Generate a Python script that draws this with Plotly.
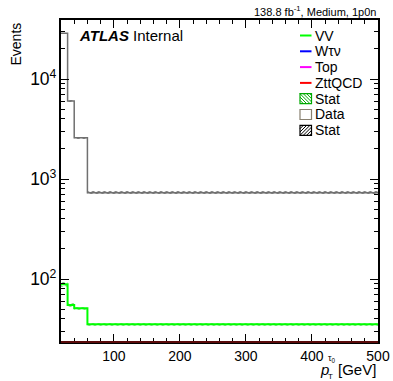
import plotly.graph_objects as go

# ---- data ----
edges = [20, 30, 40, 60, 500]
data_vals = [28700, 6030, 2590, 730]
data_err = [170, 78, 51, 27]
vv_vals = [88.5, 55, 51, 35.2]
vv_err = [4.5, 2.5, 2.0, 1.2]

line_labels = ["VV", "Wτν", "Top", "ZttQCD"]
line_colors = ["#00ff00", "#0000ff", "#ff00ff", "#ff0000"]
box_labels = ["Stat", "Data", "Stat"]

x_ticks = [100, 200, 300, 400, 500]

W, H = 393, 381
L, R, T, B = 61, 378, 20, 342
FONT = "Liberation Sans, Arial, Helvetica, sans-serif"


def px(x):
    return (x - L) / (R - L)


def py(y):
    return (B - y) / (B - T)


centers = [(a + b) / 2 for a, b in zip(edges[:-1], edges[1:])]
widths = [b - a for a, b in zip(edges[:-1], edges[1:])]

fig = go.Figure()

# stat bands (hatched)
fig.add_trace(go.Bar(
    x=centers, width=widths,
    base=[v - e for v, e in zip(vv_vals, vv_err)],
    y=[2 * e for e in vv_err],
    marker=dict(color="rgba(0,0,0,0)", line=dict(width=0),
                pattern=dict(shape="\\", fgcolor="#00aa00", size=4, solidity=0.4)),
    showlegend=False, hoverinfo="skip"))
fig.add_trace(go.Bar(
    x=centers, width=widths,
    base=[v - e for v, e in zip(data_vals, data_err)],
    y=[2 * e for e in data_err],
    marker=dict(color="rgba(0,0,0,0)", line=dict(width=0),
                pattern=dict(shape="/", fgcolor="#000000", size=4, solidity=0.5)),
    showlegend=False, hoverinfo="skip"))

# step histograms
fig.add_trace(go.Scatter(
    x=edges, y=data_vals + [data_vals[-1]], mode="lines",
    line=dict(shape="hv", color="#707070", width=1.5),
    showlegend=False, hoverinfo="skip"))
fig.add_trace(go.Scatter(
    x=edges, y=vv_vals + [vv_vals[-1]], mode="lines",
    line=dict(shape="hv", color="#00ff00", width=2),
    showlegend=False, hoverinfo="skip"))

fig.update_layout(
    width=W, height=H,
    margin=dict(l=L, r=W - R, t=T, b=H - B, pad=0, autoexpand=False),
    paper_bgcolor="white", plot_bgcolor="white",
    barmode="overlay", bargap=0,
    font=dict(family=FONT, size=14, color="black"),
    showlegend=False,
)

fig.update_xaxes(
    range=[20, 500], tickvals=x_ticks, ticktext=[str(v) for v in x_ticks],
    ticks="inside", ticklen=8, tickwidth=1, tickcolor="black",
    minor=dict(ticks="inside", ticklen=4, dtick=20, tick0=0, tickcolor="black", showgrid=False),
    showline=True, linecolor="black", linewidth=1.5, mirror="allticks",
    showgrid=False, zeroline=False, tickfont=dict(size=14, family=FONT),
    automargin=False,
)
fig.update_yaxes(
    type="log", range=[1.37, 4.59], dtick=1, exponentformat="power",
    ticks="inside", ticklen=8, tickwidth=1, tickcolor="black",
    minor=dict(ticks="inside", ticklen=4, dtick="D1", tickcolor="black", showgrid=False),
    showline=True, linecolor="black", linewidth=1.5, mirror="allticks",
    showgrid=False, zeroline=False, tickfont=dict(size=14, family=FONT),
    automargin=False,
)

shapes = []
# bottom line where the zero-valued backgrounds sit
shapes.append(dict(type="line", xref="paper", yref="paper", x0=0, x1=1, y0=0, y1=0,
                   line=dict(color="#5a0a0a", width=2), layer="above"))

ann = []
ann.append(dict(text="138.8 fb<sup>-1</sup>, Medium, 1p0n", x=px(378), y=py(11),
                xref="paper", yref="paper", xanchor="right", yanchor="middle",
                showarrow=False, font=dict(size=11)))
ann.append(dict(text="<b><i>ATLAS</i></b> Internal", x=px(77), y=py(35),
                xref="paper", yref="paper", xanchor="left", yanchor="middle",
                showarrow=False, font=dict(size=15)))
ann.append(dict(text="Events", x=px(15), y=py(20), textangle=-90,
                xref="paper", yref="paper", xanchor="center", yanchor="top",
                showarrow=False, font=dict(size=14)))
# x title
ann.append(dict(text="<i>p</i>", x=px(318), y=py(369), xref="paper", yref="paper",
                xanchor="left", yanchor="middle", showarrow=False, font=dict(size=15)))
ann.append(dict(text="τ<sub>0</sub>", x=px(326), y=py(358), xref="paper", yref="paper",
                xanchor="left", yanchor="middle", showarrow=False, font=dict(size=9)))
ann.append(dict(text="T", x=px(326), y=py(376), xref="paper", yref="paper",
                xanchor="left", yanchor="middle", showarrow=False, font=dict(size=8)))
ann.append(dict(text="[GeV]", x=px(378), y=py(369), xref="paper", yref="paper",
                xanchor="right", yanchor="middle", showarrow=False, font=dict(size=15)))

# legend
row0, dy = 35.5, 15.8
lx0, lx1, tx = 300, 311.5, 313
for i, (lab, col) in enumerate(zip(line_labels, line_colors)):
    yy = row0 + i * dy
    shapes.append(dict(type="line", xref="paper", yref="paper", x0=px(lx0), x1=px(lx1),
                       y0=py(yy), y1=py(yy), line=dict(color=col, width=2)))
    ann.append(dict(text=lab, x=px(tx), y=py(yy), xref="paper", yref="paper",
                    xanchor="left", yanchor="middle", showarrow=False, font=dict(size=14)))

box_styles = [("#00aa00", "back"), ("#888070", None), ("#000000", "fwd")]
for j, (lab, (col, hatch)) in enumerate(zip(box_labels, box_styles)):
    yy = row0 + (4 + j) * dy
    bx0, bx1 = lx0, lx1
    by0, by1 = yy - 5, yy + 5
    shapes.append(dict(type="rect", xref="paper", yref="paper", x0=px(bx0), x1=px(bx1),
                       y0=py(by1), y1=py(by0), line=dict(color=col, width=1.2),
                       fillcolor="rgba(0,0,0,0)"))
    if hatch:
        for k in range(-3, 4):
            off = k * 3.3
            if hatch == "back":
                xa, ya, xb, yb = bx0 + off, by0, bx0 + off + (by1 - by0), by1
            else:
                xa, ya, xb, yb = bx0 + off, by1, bx0 + off + (by1 - by0), by0
            t0 = max(0, (bx0 - xa) / (xb - xa))
            t1 = min(1, (bx1 - xa) / (xb - xa))
            if t1 <= t0:
                continue
            x0c, y0c = xa + t0 * (xb - xa), ya + t0 * (yb - ya)
            x1c, y1c = xa + t1 * (xb - xa), ya + t1 * (yb - ya)
            shapes.append(dict(type="line", xref="paper", yref="paper",
                               x0=px(x0c), y0=py(y0c), x1=px(x1c), y1=py(y1c),
                               line=dict(color=col, width=1)))
    ann.append(dict(text=lab, x=px(tx), y=py(yy), xref="paper", yref="paper",
                    xanchor="left", yanchor="middle", showarrow=False, font=dict(size=14)))

fig.update_layout(shapes=shapes, annotations=ann)
fig.write_html("out.html")
